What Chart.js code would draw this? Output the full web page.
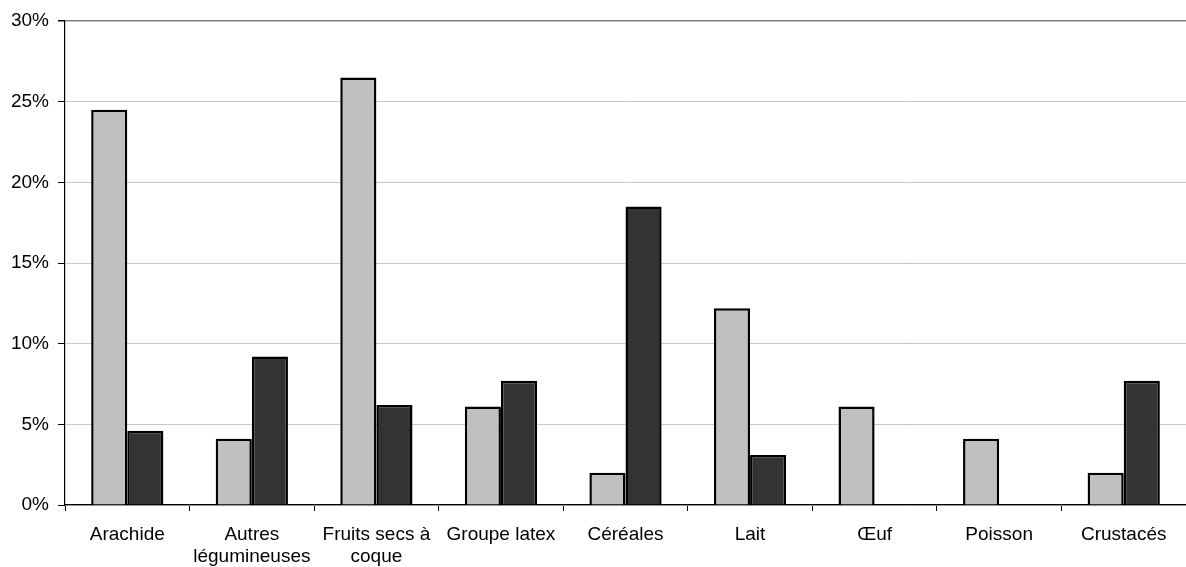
<!DOCTYPE html>
<html>
<head>
<meta charset="utf-8">
<script src="https://cdn.jsdelivr.net/npm/chart.js@4.4.1/dist/chart.umd.min.js"></script>
<style>
  html, body { margin: 0; padding: 0; background: #fff; }
  #wrap { width: 1186px; height: 567px; overflow: hidden; }
</style>
</head>
<body>
<div id="wrap"><canvas id="c" width="1186" height="567"></canvas></div>
<script>
// Allergen categories (x axis)
const categories = [
  "Arachide",
  ["Autres", "légumineuses"],
  ["Fruits secs à", "coque"],
  "Groupe latex",
  "Céréales",
  "Lait",
  "Œuf",
  "Poisson",
  "Crustacés"
];

// Share of cases per category, in percent
const seriesLight = [24.5, 4.1, 26.5, 6.1, 2.0, 12.2, 6.1, 4.1, 2.0];
const seriesDark  = [4.6, 9.2, 6.2, 7.7, 18.5, 3.1, 0, 0, 7.7];

// Y axis ticks
const yTicks = [0, 5, 10, 15, 20, 25, 30];

const FONT = { family: "'Liberation Sans', Arial, sans-serif", size: 19 };

new Chart(document.getElementById("c"), {
  type: "bar",
  data: {
    labels: categories,
    datasets: [
      {
        label: "Série 1",
        data: seriesLight,
        backgroundColor: "#c0c0c0",
        borderColor: "#000000",
        borderWidth: 2.5,
        borderSkipped: "bottom"
      },
      {
        label: "Série 2",
        data: seriesDark,
        backgroundColor: "#333333",
        borderColor: "#000000",
        borderWidth: 2.5,
        borderSkipped: "bottom"
      }
    ]
  },
  options: {
    responsive: false,
    animation: false,
    devicePixelRatio: 1,
    layout: { padding: { top: 21, right: -3, left: 0, bottom: 0 } },
    plugins: {
      legend: { display: false },
      tooltip: { enabled: false }
    },
    datasets: {
      bar: { categoryPercentage: 0.58, barPercentage: 1.0 }
    },
    scales: {
      x: {
        grid: {
          display: true,
          offset: true,
          drawOnChartArea: false,
          drawTicks: true,
          tickLength: 6,
          tickColor: "#000000",
          lineWidth: 1
        },
        border: { display: true, color: "#000000", width: 1.2 },
        ticks: {
          color: "#000000",
          font: FONT,
          padding: 12,
          maxRotation: 0,
          minRotation: 0,
          autoSkip: false
        },
        afterFit: (scale) => { scale.height = 62; }
      },
      y: {
        min: 0,
        max: 30,
        afterBuildTicks: (scale) => {
          scale.ticks = yTicks.map(v => ({ value: v }));
        },
        grid: {
          color: (ctx) => (ctx.tick && ctx.tick.value === 30) ? "#808080" : "#c8c8c8",
          lineWidth: (ctx) => (ctx.tick && ctx.tick.value === 30) ? 1.5 : 1,
          drawTicks: true,
          tickLength: 7,
          tickColor: "#000000"
        },
        border: { display: true, color: "#000000", width: 1.2 },
        ticks: {
          color: "#000000",
          font: FONT,
          padding: 9,
          callback: (v) => v + "%"
        },
        afterFit: (scale) => { scale.width = 65; }
      }
    }
  }
});
</script>
</body>
</html>
